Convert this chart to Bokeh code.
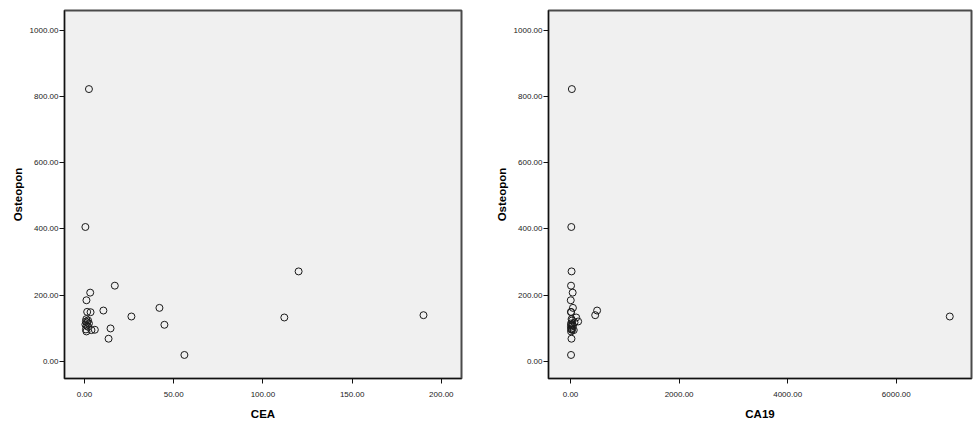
from bokeh.plotting import figure
from bokeh.layouts import row
from bokeh.models import ColumnDataSource, FixedTicker, NumeralTickFormatter, Range1d
from bokeh.embed import file_html
from bokeh.resources import INLINE

cea = [2.5, 0.5, 120.0, 17.0, 3.2, 1.1, 42.0, 10.6, 1.5, 3.4, 190.0, 26.3, 112.0,
       1.0, 2.0, 0.8, 1.5, 2.5, 0.5, 44.8, 1.2, 2.0, 14.6, 0.8, 5.8, 3.9, 1.1, 13.5, 56.0]
ca19 = [25.0, 15.0, 20.0, 10.0, 40.0, 5.0, 45.0, 490.0, 8.0, 12.0, 455.0, 6985.0, 105.0,
        20.0, 30.0, 141.0, 74.0, 10.0, 35.0, 15.0, 45.0, 8.0, 20.0, 12.0, 30.0, 60.0, 10.0, 18.0, 10.0]
osteopon = [822, 406, 272, 229, 208, 185, 162, 154, 150, 149, 140, 136, 133,
            128, 124, 121, 118, 115, 112, 111, 108, 105, 100, 97, 96, 95, 91, 69, 20]

y_ticks = [0, 200, 400, 600, 800, 1000]
cea_ticks = [0, 50, 100, 150, 200]
ca19_ticks = [0, 2000, 4000, 6000]

FONT = "Liberation Sans"


def make(xvals, xlabel, xticks, xr, width, bl, br):
    src = ColumnDataSource(dict(x=xvals, y=osteopon))
    p = figure(width=width, height=426, output_backend="svg", toolbar_location=None,
               x_range=Range1d(*xr), y_range=Range1d(-51, 1059),
               min_border_left=bl, min_border_right=br, min_border_top=10, min_border_bottom=48)
    p.scatter("x", "y", source=src, size=7, marker="circle", fill_color=None,
              line_color="#1a1a1a", line_width=1)
    p.background_fill_color = "#f0f0f0"
    p.border_fill_color = "white"
    p.outline_line_color = "#4a4a4a"
    p.outline_line_width = 2
    p.xgrid.visible = False
    p.ygrid.visible = False
    for ax in (p.xaxis[0], p.yaxis[0]):
        ax.axis_line_color = "#111111"
        ax.axis_line_width = 1
        ax.major_tick_line_color = "#111111"
        ax.major_tick_out = 5
        ax.major_tick_in = 0
        ax.minor_tick_line_color = None
        ax.major_label_text_font = FONT
        ax.major_label_text_font_size = "8px"
        ax.major_label_text_color = "#222222"
        ax.axis_label_text_font = FONT
        ax.axis_label_text_font_style = "bold"
        ax.axis_label_text_font_size = "11.5px"
        ax.axis_label_text_color = "#000000"
        ax.formatter = NumeralTickFormatter(format="0.00")
    p.yaxis.ticker = FixedTicker(ticks=y_ticks)
    p.xaxis.ticker = FixedTicker(ticks=xticks)
    p.yaxis.axis_label = "Osteopon"
    p.xaxis.axis_label = xlabel
    p.yaxis.major_label_standoff = 1
    p.xaxis.major_label_standoff = 8
    p.yaxis.axis_label_standoff = 3
    p.xaxis.axis_label_standoff = 8
    return p


p1 = make(cea, "CEA", cea_ticks, (-11.2, 211.3), 488, 64, 27)
p2 = make(ca19, "CA19", ca19_ticks, (-405, 7385), 486, 60, 3)
layout = row(p1, p2)
open("out.html", "w").write(file_html(layout, INLINE))
